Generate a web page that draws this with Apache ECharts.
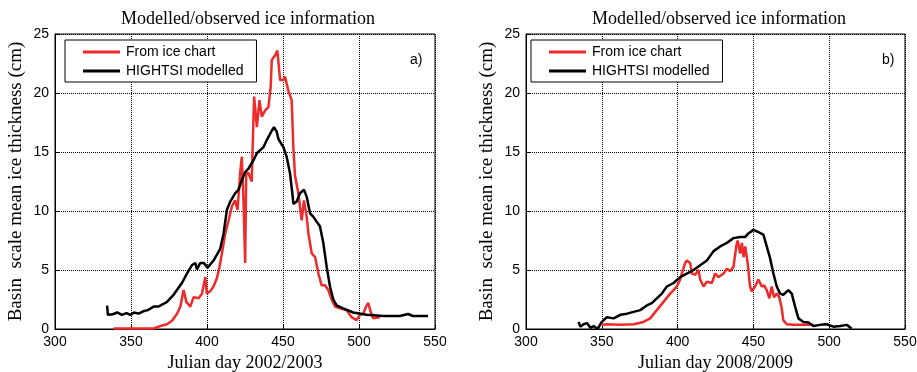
<!DOCTYPE html>
<html>
<head>
<meta charset="utf-8">
<script src="https://cdn.jsdelivr.net/npm/echarts@6/dist/echarts.min.js"></script>
<style>
  html, body { margin: 0; padding: 0; background: #fff; }
  #chart { width: 917px; height: 372px; }
</style>
</head>
<body>
<div id="chart"></div>
<script>
// panel a) 2002/2003
const daysA_chart = [338.7, 345, 355, 365, 369.3, 373.7, 377, 380.3, 382.5, 384.6, 386.4, 389, 391.2, 394.5, 396.7, 398.9, 399.9, 402.1, 404.3, 406.5, 408.3, 409.8, 412, 414.2, 416.4, 418.5, 420.1, 421.8, 422.9, 424, 425.1, 425.8, 427.3, 429.4, 431, 432.8, 434.5, 436, 438.2, 440.4, 441.9, 442.6, 444.8, 446.3, 448.1, 450.3, 451.3, 453.5, 455.7, 456.8, 457.9, 460.1, 462.3, 463.8, 465.6, 466.7, 468.9, 471.1, 473.3, 475.4, 477.6, 479.8, 482, 484.2, 487.4, 491.8, 495.1, 498.4, 500.6, 502.8, 505, 506.1, 507.6, 509.3, 513.7];
const valsA_chart = [0.05, 0.05, 0.05, 0.05, 0.25, 0.4, 0.7, 1.3, 1.9, 3.3, 2.3, 1.9, 2.7, 2.6, 3.0, 4.4, 3.0, 3.2, 3.6, 4.3, 5.3, 6.4, 8.1, 9.2, 10.4, 10.9, 10.1, 13.2, 14.6, 10.9, 5.6, 13.2, 13.2, 12.5, 19.7, 17.1, 19.4, 18.0, 18.5, 18.8, 20.5, 22.8, 23.2, 23.6, 21.1, 21.1, 21.4, 20.2, 19.4, 15.4, 13.0, 11.5, 9.2, 10.9, 9.5, 8.1, 6.4, 6.1, 4.7, 3.7, 3.7, 3.3, 2.5, 1.9, 1.75, 1.6, 1.0, 0.75, 1.2, 1.3, 2.0, 2.2, 1.5, 0.9, 1.0];
const daysA_model = [334.3, 334.8, 338, 341, 344, 347, 349.6, 352, 355, 358, 361, 365, 368, 371, 373.7, 378, 383.5, 386.8, 390, 392.3, 393.4, 395.6, 397.8, 400.4, 404.3, 408.7, 410.9, 413.1, 415.3, 418.5, 420.7, 422.9, 425.1, 427.3, 430.6, 432.8, 437.1, 439.3, 442.6, 444.1, 445.9, 447, 450.3, 452.4, 454.6, 456.4, 456.8, 459, 461.2, 463.8, 465.6, 467.8, 470, 472.1, 474.3, 476.5, 478.7, 480.9, 483.1, 485.3, 489.6, 496.2, 505, 515.9, 526.8, 532.3, 535.5, 545.4];
const valsA_model = [1.98, 1.2, 1.25, 1.4, 1.2, 1.35, 1.2, 1.4, 1.3, 1.5, 1.6, 1.9, 1.9, 2.1, 2.3, 2.9, 3.9, 4.7, 5.4, 5.6, 5.05, 5.6, 5.6, 5.2, 5.8, 6.8, 8.1, 10.1, 10.8, 11.5, 11.8, 12.6, 13.3, 13.6, 14.3, 14.9, 15.4, 16.0, 16.8, 17.1, 16.7, 16.1, 15.4, 14.6, 13.2, 11.2, 10.6, 10.8, 11.5, 11.8, 11.2, 9.8, 9.5, 9.1, 8.7, 7.3, 5.3, 3.6, 2.5, 2.0, 1.75, 1.4, 1.2, 1.1, 1.1, 1.27, 1.1, 1.1];

// panel b) 2008/2009
const daysB_chart = [350, 353.4, 362.2, 371, 377.5, 381.9, 386.3, 390.7, 395.1, 399.5, 401.7, 402.8, 405, 406.1, 408.3, 409.4, 411.6, 413.8, 414.9, 417.1, 419.3, 422.6, 424.8, 427, 430.3, 432.5, 434.7, 436.9, 438.7, 439.6, 441.3, 442.4, 443.5, 444.6, 446.2, 447.8, 448.9, 451.1, 453.3, 455.5, 457.1, 458.8, 460.5, 462.1, 463.6, 465.4, 467.1, 468.7, 469.7, 472, 476.4, 483, 489.6];
const valsB_chart = [0.35, 0.4, 0.35, 0.4, 0.6, 0.9, 1.6, 2.3, 3.0, 3.6, 4.2, 4.7, 5.6, 5.8, 5.6, 4.7, 4.6, 5.0, 4.2, 3.6, 4.0, 3.9, 4.7, 4.4, 4.7, 5.1, 4.9, 5.3, 7.0, 7.5, 6.4, 7.3, 6.1, 7.0, 5.6, 3.6, 3.2, 3.6, 4.2, 3.6, 3.7, 3.3, 2.6, 3.6, 2.7, 3.0, 2.7, 1.75, 0.75, 0.4, 0.35, 0.35, 0.35];
const daysB_model = [334.7, 335.8, 338, 340.2, 342.5, 344.6, 347.2, 350, 353.4, 357.8, 362.2, 366.6, 371, 375.4, 379.7, 383, 386.3, 389.6, 392.9, 397.3, 401.7, 406.1, 410.5, 414.9, 419.3, 423.7, 428.1, 432.5, 436.9, 441.3, 444.6, 446.7, 450, 453.3, 456.6, 458.8, 461, 463.2, 465.4, 467.6, 469.7, 473.1, 475.3, 477.5, 479.7, 483, 486.3, 489.6, 494, 498.4, 502.8, 507.2, 511.6, 514.8];
const valsB_model = [0.6, 0.2, 0.4, 0.5, 0.1, 0.25, 0.0, 0.6, 1.0, 0.9, 1.2, 1.3, 1.45, 1.6, 2.0, 2.2, 2.6, 3.0, 3.6, 3.9, 4.4, 4.7, 5.0, 5.4, 5.8, 6.6, 7.0, 7.3, 7.7, 7.8, 7.8, 8.1, 8.4, 8.2, 8.0, 7.0, 6.0, 4.7, 3.6, 3.0, 2.9, 3.3, 3.0, 1.9, 0.9, 0.6, 0.55, 0.25, 0.35, 0.4, 0.2, 0.25, 0.35, 0.05];

const xTicks = [300, 350, 400, 450, 500, 550];
const yTicks = [0, 5, 10, 15, 20, 25];
const chartName = 'From ice chart';
const modelName = 'HIGHTSI modelled';
const panelTitle = 'Modelled/observed ice information';
const xNames = ['Julian day 2002/2003', 'Julian day 2008/2009'];
const yName = 'Basin  scale mean ice thickness (cm)';

const pairs = (d, v) => d.map((x, i) => [x, v[i]]);

const serif = 'Liberation Serif';
const sans = 'Liberation Sans';

function xAxis(idx) {
  return {
    type: 'value', gridIndex: idx,
    min: xTicks[0], max: xTicks[xTicks.length - 1], interval: 50,
    name: xNames[idx], nameLocation: 'middle', nameGap: 24,
    nameTextStyle: { fontFamily: serif, fontSize: 18, color: '#000' },
    axisLine: { show: true, lineStyle: { color: '#000', width: 1 } },
    axisTick: { inside: true, length: 4, lineStyle: { color: '#000' } },
    axisLabel: { fontFamily: sans, fontSize: 14, color: '#000', margin: 6 },
    splitLine: { show: true, lineStyle: { type: 'dotted', color: '#000', width: 1 } }
  };
}

function yAxis(idx) {
  return {
    type: 'value', gridIndex: idx,
    min: yTicks[0], max: yTicks[yTicks.length - 1], interval: 5,
    name: yName, nameLocation: 'middle', nameGap: 29, nameRotate: 90,
    nameTextStyle: { fontFamily: serif, fontSize: 19, color: '#000' },
    axisLine: { show: true, lineStyle: { color: '#000', width: 1 } },
    axisTick: { inside: true, length: 4, lineStyle: { color: '#000' } },
    axisLabel: { fontFamily: sans, fontSize: 14, color: '#000', margin: 6 },
    splitLine: { show: true, lineStyle: { type: 'dotted', color: '#000', width: 1 } }
  };
}

function line(name, idx, data, color) {
  return {
    name: name, type: 'line', xAxisIndex: idx, yAxisIndex: idx,
    data: data, showSymbol: false, symbol: 'none', animation: false,
    lineStyle: { color: color, width: 2.5 }, itemStyle: { color: color }
  };
}

function legend(left) {
  return {
    left: left, top: 40, orient: 'vertical',
    data: [chartName, modelName],
    icon: 'rect', itemWidth: 37, itemHeight: 3, itemGap: 5,
    borderColor: '#000', borderWidth: 1, padding: [5, 13, 4, 18],
    textStyle: { fontFamily: sans, fontSize: 14, color: '#000', padding: [0, 0, 0, 1] },
    backgroundColor: '#fff'
  };
}

const chart = echarts.init(document.getElementById('chart'));
chart.setOption({
  backgroundColor: '#fff',
  animation: false,
  title: [
    { text: panelTitle, left: 243, top: 5, textAlign: 'center',
      textStyle: { fontFamily: serif, fontSize: 18, fontWeight: 'normal', color: '#000' } },
    { text: panelTitle, left: 714, top: 5, textAlign: 'center',
      textStyle: { fontFamily: serif, fontSize: 18, fontWeight: 'normal', color: '#000' } },
    { text: 'a)', left: 405, top: 48,
      textStyle: { fontFamily: sans, fontSize: 14, fontWeight: 'normal', color: '#000' } },
    { text: 'b)', left: 877, top: 48,
      textStyle: { fontFamily: sans, fontSize: 14, fontWeight: 'normal', color: '#000' } }
  ],
  grid: [
    { left: 55, top: 34, width: 380, height: 295, show: true, borderColor: '#000', borderWidth: 1, outerBoundsMode: 'none' },
    { left: 526, top: 34, width: 379, height: 295, show: true, borderColor: '#000', borderWidth: 1, outerBoundsMode: 'none' }
  ],
  legend: [legend(65), legend(531)],
  xAxis: [xAxis(0), xAxis(1)],
  yAxis: [yAxis(0), yAxis(1)],
  series: [
    line(chartName, 0, pairs(daysA_chart, valsA_chart), '#ee2a2a'),
    line(modelName, 0, pairs(daysA_model, valsA_model), '#000'),
    line(chartName, 1, pairs(daysB_chart, valsB_chart), '#ee2a2a'),
    line(modelName, 1, pairs(daysB_model, valsB_model), '#000')
  ]
});
</script>
</body>
</html>
